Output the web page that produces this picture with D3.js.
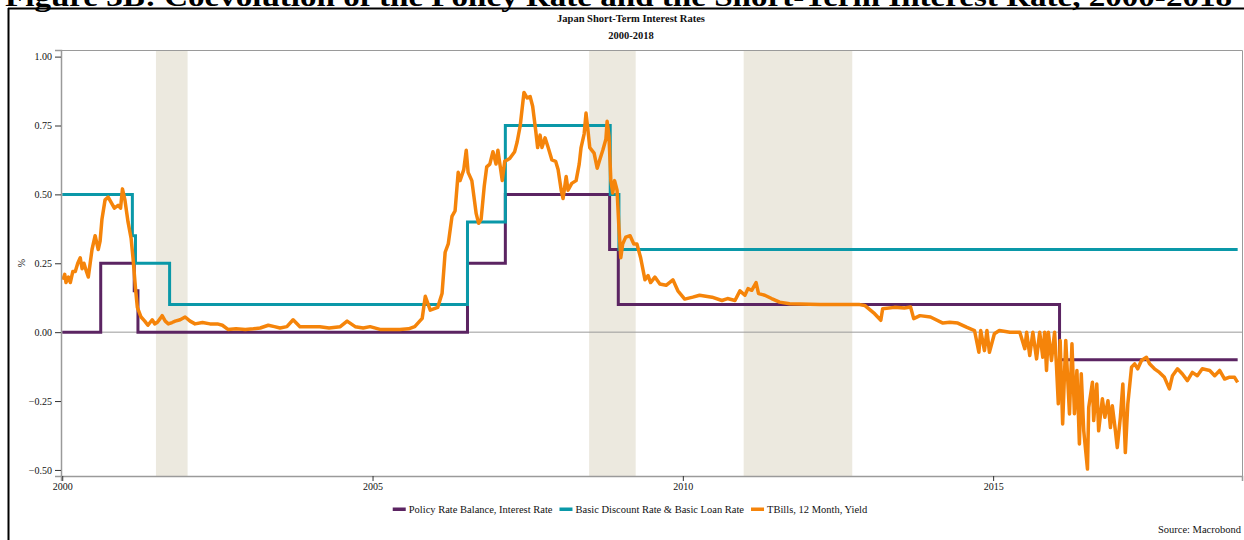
<!DOCTYPE html>
<html>
<head>
<meta charset="utf-8">
<script src="https://cdn.jsdelivr.net/npm/d3@7"></script>
<style>
  html, body { margin: 0; padding: 0; background: #fff; }
  svg { display: block; }
  text { font-family: "Liberation Serif", "DejaVu Serif", serif; fill: #111; }
</style>
</head>
<body>
<script>
// Japan short-term rates, 2000-2018

const figTitle = "Figure 3B: Coevolution of the Policy Rate and the Short-Term Interest Rate, 2000-2018";
const chartTitle = "Japan Short-Term Interest Rates";
const chartSubtitle = "2000-2018";
const sourceText = "Source: Macrobond";

const yTicks = [-0.5, -0.25, 0, 0.25, 0.5, 0.75, 1.0];
const xTicks = [2000, 2005, 2010, 2015];

// shaded periods (start, end) in decimal years
const bandStarts = [2001.51, 2008.49, 2010.98];
const bandEnds   = [2002.02, 2009.24, 2012.73];

const seriesNames = [
  "Policy Rate Balance, Interest Rate",
  "Basic Discount Rate & Basic Loan Rate",
  "TBills, 12 Month, Yield"
];
const seriesColors = ["#5b2462", "#0a98a8", "#f5840a"];

// step series: value holds from date until next date
const policyDates  = [2000.0, 2000.62, 2001.16, 2001.22, 2006.53, 2007.14, 2008.82, 2008.96, 2016.07, 2018.94];
const policyValues = [0, 0.25, 0.15, 0, 0.25, 0.5, 0.3, 0.1, -0.1, -0.1];

const discountDates  = [2000.0, 2001.13, 2001.18, 2001.73, 2006.53, 2007.14, 2008.83, 2008.97, 2018.94];
const discountValues = [0.5, 0.35, 0.25, 0.1, 0.4, 0.75, 0.5, 0.3, 0.3];

// 12M T-bill yield
const tbillDates = [
  2000.01, 2000.04, 2000.06, 2000.10, 2000.13, 2000.17, 2000.21, 2000.25, 2000.29, 2000.32,
  2000.35, 2000.39, 2000.42, 2000.45, 2000.48, 2000.53, 2000.58, 2000.61, 2000.64, 2000.69,
  2000.74, 2000.79, 2000.84, 2000.90, 2000.94, 2000.97, 2001.01, 2001.06, 2001.11, 2001.14,
  2001.18, 2001.21, 2001.27, 2001.33, 2001.38, 2001.45, 2001.49, 2001.53, 2001.58, 2001.61,
  2001.66, 2001.71, 2001.77, 2001.82, 2001.90, 2001.98, 2002.06, 2002.14, 2002.26, 2002.38,
  2002.50, 2002.58, 2002.67, 2002.80, 2002.95, 2003.08, 2003.19, 2003.32, 2003.42, 2003.51,
  2003.62, 2003.72, 2003.83, 2004.00, 2004.15, 2004.30, 2004.48, 2004.59, 2004.72, 2004.85,
  2004.96, 2005.12, 2005.28, 2005.44, 2005.58, 2005.68, 2005.80, 2005.85, 2005.93, 2006.05,
  2006.12, 2006.17, 2006.22, 2006.28, 2006.33, 2006.38, 2006.41, 2006.47, 2006.51, 2006.54,
  2006.60, 2006.67, 2006.71, 2006.75, 2006.80, 2006.84, 2006.89, 2006.94, 2006.99, 2007.02,
  2007.09, 2007.13, 2007.21, 2007.29, 2007.33, 2007.38, 2007.44, 2007.49, 2007.54, 2007.58,
  2007.63, 2007.66, 2007.70, 2007.73, 2007.78, 2007.83, 2007.89, 2007.95, 2007.99, 2008.04,
  2008.07, 2008.12, 2008.15, 2008.21, 2008.28, 2008.33, 2008.36, 2008.41, 2008.44, 2008.47,
  2008.50, 2008.57, 2008.62, 2008.66, 2008.71, 2008.76, 2008.78, 2008.81, 2008.84, 2008.87,
  2008.90, 2008.94, 2008.97, 2009.00, 2009.03, 2009.08, 2009.15, 2009.21, 2009.26, 2009.32,
  2009.39, 2009.44, 2009.48, 2009.55, 2009.63, 2009.73, 2009.84, 2009.92, 2010.03, 2010.16,
  2010.27, 2010.47, 2010.63, 2010.72, 2010.84, 2010.92, 2011.00, 2011.05, 2011.11, 2011.18,
  2011.22, 2011.32, 2011.43, 2011.56, 2011.72, 2012.21, 2012.85, 2012.93, 2013.09, 2013.19,
  2013.22, 2013.41, 2013.57, 2013.67, 2013.72, 2013.82, 2013.99, 2014.19, 2014.30, 2014.43,
  2014.57, 2014.70, 2014.77, 2014.80, 2014.86, 2014.90, 2014.94, 2015.02, 2015.10, 2015.27,
  2015.43, 2015.51, 2015.54, 2015.59, 2015.64, 2015.70, 2015.75, 2015.80, 2015.83, 2015.86,
  2015.89, 2015.94, 2015.99, 2016.02, 2016.05, 2016.08, 2016.12, 2016.17, 2016.23, 2016.27,
  2016.31, 2016.35, 2016.39, 2016.42, 2016.46, 2016.52, 2016.54, 2016.60, 2016.62, 2016.67,
  2016.70, 2016.76, 2016.80, 2016.85, 2016.89, 2016.92, 2016.97, 2017.00, 2017.05, 2017.09,
  2017.13, 2017.17, 2017.23, 2017.28, 2017.33, 2017.39, 2017.47, 2017.52, 2017.60, 2017.68,
  2017.76, 2017.84, 2017.89, 2017.97, 2018.05, 2018.13, 2018.21, 2018.29, 2018.37, 2018.49,
  2018.57, 2018.65, 2018.73, 2018.80, 2018.89, 2018.94
];
const tbillValues = [
  0.19, 0.21, 0.18, 0.20, 0.18, 0.22, 0.22, 0.25, 0.27, 0.23,
  0.25, 0.22, 0.20, 0.25, 0.30, 0.35, 0.30, 0.33, 0.41, 0.48,
  0.49, 0.47, 0.45, 0.46, 0.45, 0.52, 0.48, 0.40, 0.34, 0.27,
  0.16, 0.09, 0.055, 0.04, 0.025, 0.045, 0.03, 0.035, 0.05, 0.06,
  0.04, 0.03, 0.035, 0.04, 0.045, 0.055, 0.04, 0.03, 0.035, 0.03,
  0.03, 0.025, 0.01, 0.012, 0.01, 0.012, 0.015, 0.025, 0.02, 0.015,
  0.02, 0.045, 0.02, 0.02, 0.02, 0.015, 0.02, 0.04, 0.02, 0.015,
  0.02, 0.01, 0.01, 0.01, 0.012, 0.02, 0.05, 0.13, 0.08, 0.09,
  0.14, 0.29, 0.32, 0.42, 0.44, 0.58, 0.55, 0.59, 0.66, 0.58,
  0.55, 0.43, 0.395, 0.41, 0.53, 0.60, 0.61, 0.655, 0.61, 0.66,
  0.55, 0.62, 0.63, 0.655, 0.69, 0.75, 0.87, 0.85, 0.855, 0.82,
  0.73, 0.67, 0.715, 0.67, 0.705, 0.67, 0.625, 0.62, 0.59, 0.515,
  0.485, 0.565, 0.515, 0.54, 0.55, 0.61, 0.67, 0.72, 0.795, 0.735,
  0.67, 0.65, 0.595, 0.625, 0.66, 0.70, 0.765, 0.71, 0.55, 0.505,
  0.55, 0.515, 0.38, 0.27, 0.32, 0.345, 0.35, 0.32, 0.32, 0.27,
  0.19, 0.205, 0.18, 0.20, 0.175, 0.17, 0.19, 0.15, 0.12, 0.127,
  0.134, 0.127, 0.115, 0.122, 0.115, 0.15, 0.134, 0.158, 0.152, 0.18,
  0.14, 0.134, 0.122, 0.109, 0.103, 0.10, 0.10, 0.097, 0.067, 0.043,
  0.085, 0.09, 0.088, 0.091, 0.049, 0.06, 0.055, 0.033, 0.036, 0.033,
  0.018, 0.006, -0.073, 0.006, -0.067, 0.006, -0.073, -0.006, 0.006, 0.0,
  0.0, -0.06, 0.0, -0.085, 0.0, -0.097, 0.0, -0.091, 0.0, -0.139,
  0.0, -0.103, 0.0, -0.121, -0.26, -0.03, -0.333, -0.03, -0.297, -0.042,
  -0.296, -0.139, -0.406, -0.151, -0.358, -0.497, -0.273, -0.182, -0.321, -0.188,
  -0.358, -0.242, -0.309, -0.249, -0.346, -0.267, -0.358, -0.419, -0.309, -0.188,
  -0.437, -0.261, -0.127, -0.115, -0.133, -0.103, -0.091, -0.115, -0.133, -0.146,
  -0.164, -0.206, -0.158, -0.133, -0.152, -0.176, -0.146, -0.158, -0.133, -0.139,
  -0.158, -0.139, -0.17, -0.164, -0.164, -0.182
];

const width = 1244;
const height = 540;
const plot = { left: 61, right: 1242, top: 50, bottom: 476 };

const svg = d3.select("body").append("svg")
  .attr("width", width)
  .attr("height", height);

const x = d3.scaleLinear()
  .domain([1999.98, 2019.01])
  .range([plot.left, plot.right]);

const y = d3.scaleLinear()
  .domain([-0.522, 1.024])
  .range([plot.bottom, plot.top]);

// figure header, cut off by the page top
svg.append("text")
  .attr("x", 5)
  .attr("y", 6)
  .attr("textLength", 1227)
  .attr("lengthAdjust", "spacingAndGlyphs")
  .style("font-size", "27px")
  .style("font-weight", "bold")
  .style("fill", "#000")
  .text(figTitle);

// outer frame lines
svg.append("line")
  .attr("x1", 8).attr("x2", width).attr("y1", 8.5).attr("y2", 8.5)
  .attr("stroke", "#000").attr("stroke-width", 2);
svg.append("line")
  .attr("x1", 8.5).attr("x2", 8.5).attr("y1", 8).attr("y2", height)
  .attr("stroke", "#000").attr("stroke-width", 2);

// chart titles
svg.append("text")
  .attr("x", 631).attr("y", 22)
  .attr("text-anchor", "middle")
  .style("font-size", "10.5px")
  .style("font-weight", "bold")
  .text(chartTitle);
svg.append("text")
  .attr("x", 631).attr("y", 39)
  .attr("text-anchor", "middle")
  .style("font-size", "10.5px")
  .style("font-weight", "bold")
  .text(chartSubtitle);

const g = svg.append("g");

// shaded bands
g.selectAll(".band")
  .data(d3.range(bandStarts.length))
  .enter().append("rect")
  .attr("class", "band")
  .attr("x", i => x(bandStarts[i]))
  .attr("width", i => x(bandEnds[i]) - x(bandStarts[i]))
  .attr("y", plot.top)
  .attr("height", plot.bottom - plot.top)
  .attr("fill", "#ece9df");

// zero line
g.append("line")
  .attr("x1", plot.left).attr("x2", plot.right)
  .attr("y1", y(0)).attr("y2", y(0))
  .attr("stroke", "#9a9a9a").attr("stroke-width", 1);

// plot frame (top/right)
g.append("path")
  .attr("d", `M${plot.left},${plot.top + 0.5}H${plot.right + 0.5}V${plot.bottom}`)
  .attr("fill", "none")
  .attr("stroke", "#9a9a9a")
  .attr("stroke-width", 1);

// axes
const yAxis = d3.axisLeft(y)
  .tickValues(yTicks)
  .tickFormat(d3.format(".2f"))
  .tickSize(6)
  .tickPadding(3);
const yG = svg.append("g")
  .attr("transform", `translate(${plot.left},0)`)
  .call(yAxis);

const xAxis = d3.axisBottom(x)
  .tickValues(xTicks)
  .tickFormat(d3.format("d"))
  .tickSize(5)
  .tickPadding(2);
const xG = svg.append("g")
  .attr("transform", `translate(0,${plot.bottom})`)
  .call(xAxis);

[yG, xG].forEach(a => {
  a.select(".domain").attr("stroke", "#9a9a9a").attr("stroke-width", 1.5);
  a.selectAll(".tick line").attr("stroke", "#333");
  a.selectAll(".tick text")
    .style("font-family", "'Liberation Serif', 'DejaVu Serif', serif")
    .style("font-size", "10px")
    .attr("fill", "#111");
});

// y label
svg.append("text")
  .attr("transform", "translate(25,263) rotate(-90)")
  .attr("text-anchor", "middle")
  .style("font-size", "10px")
  .text("%");

// lines
const stepLine = d3.line()
  .x(d => x(d[0]))
  .y(d => y(d[1]))
  .curve(d3.curveStepAfter);

const plainLine = d3.line()
  .x(d => x(d[0]))
  .y(d => y(d[1]))
  .curve(d3.curveLinear);

const policy = policyDates.map((d, i) => [d, policyValues[i]]);
const discount = discountDates.map((d, i) => [d, discountValues[i]]);
const tbill = tbillDates.map((d, i) => [d, tbillValues[i]]);

g.append("path")
  .datum(policy)
  .attr("d", stepLine)
  .attr("fill", "none")
  .attr("stroke", seriesColors[0])
  .attr("stroke-width", 3);

g.append("path")
  .datum(discount)
  .attr("d", stepLine)
  .attr("fill", "none")
  .attr("stroke", seriesColors[1])
  .attr("stroke-width", 3);

g.append("path")
  .datum(tbill)
  .attr("d", plainLine)
  .attr("fill", "none")
  .attr("stroke", seriesColors[2])
  .attr("stroke-width", 3.5)
  .attr("stroke-linejoin", "round");

// legend, centred under the plot
const legend = svg.append("g");
let lx = 0;
seriesNames.forEach((name, i) => {
  const item = legend.append("g").attr("transform", `translate(${lx},0)`);
  item.append("rect")
    .attr("x", 0).attr("y", -1.5)
    .attr("width", 13).attr("height", 3.5)
    .attr("fill", seriesColors[i]);
  const t = item.append("text")
    .attr("x", 16).attr("y", 3.5)
    .style("font-size", "10.5px")
    .text(name);
  lx += 16 + t.node().getComputedTextLength() + 7;
});
const legendW = lx - 7;
legend.attr("transform", `translate(${630 - legendW / 2},509)`);

// source note
svg.append("text")
  .attr("x", 1241).attr("y", 533)
  .attr("text-anchor", "end")
  .style("font-size", "10.5px")
  .text(sourceText);
</script>
</body>
</html>
